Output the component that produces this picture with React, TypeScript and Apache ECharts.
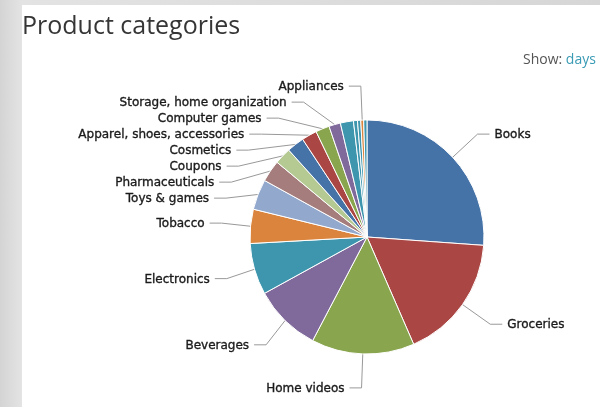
import React, { useEffect, useRef } from 'react';
import * as echarts from 'echarts';

// Slice names in drawing order (clockwise from 12 o'clock); '' = slice without a label
const categories: string[] = [
  'Books',
  'Groceries',
  'Home videos',
  'Beverages',
  'Electronics',
  'Tobacco',
  'Toys & games',
  'Pharmaceuticals',
  'Coupons',
  'Cosmetics',
  'Apparel, shoes, accessories',
  'Computer games',
  'Storage, home organization',
  '',
  '',
  '',
  'Appliances',
  '',
];

// Share of each slice (%)
const shares: number[] = [
  26.1, 17.3, 14.2, 9.3, 7.1, 4.7, 4.2, 3.0, 2.3, 2.4, 2.1, 1.9, 1.6, 1.8, 0.55, 0.45, 0.4, 0.45,
];

const palette: string[] = [
  '#4572A7', '#AA4643', '#89A54E', '#80699B', '#3D96AE',
  '#DB843D', '#92A8CD', '#A47D7C', '#B5CA92',
];

const titleText = 'Product categories';
const showLabel = 'Show:';
const showValue = 'days';

export default function App() {
  const ref = useRef<HTMLDivElement>(null);

  useEffect(() => {
    if (!ref.current) return;
    const chart = echarts.init(ref.current, null, { renderer: 'svg' });

    const data = categories.map((name, i) => {
      const hasLabel = name !== '';
      return {
        name: hasLabel ? name : ' ',
        value: shares[i],
        label: { show: hasLabel },
        labelLine: { show: hasLabel },
      };
    });

    chart.setOption({
      animation: false,
      color: palette,
      graphic: [
        {
          type: 'rect',
          z: -10,
          silent: true,
          shape: { x: 0, y: 0, width: 600, height: 407 },
          style: {
            fill: new echarts.graphic.LinearGradient(0, 0, 1, 0, [
              { offset: 0, color: '#d4d4d4' },
              { offset: 0.035, color: '#e3e3e3' },
              { offset: 1, color: '#d6d6d6' },
            ]),
          },
        },
        {
          type: 'rect',
          z: -9,
          silent: true,
          shape: { x: 22, y: 5, width: 578, height: 402 },
          style: { fill: '#ffffff' },
        },
        {
          type: 'text',
          z: 10,
          x: 22,
          y: 11,
          style: {
            text: titleText,
            fontFamily: 'Open Sans',
            fontSize: 25,
            fill: '#363636',
            textVerticalAlign: 'top',
          },
        },
        {
          type: 'text',
          z: 10,
          x: 523,
          y: 58,
          style: {
            text: `{a|${showLabel}} {b|${showValue}}`,
            fontFamily: 'Open Sans',
            fontSize: 14,
            verticalAlign: 'middle',
            rich: {
              a: { fill: '#555555', fontFamily: 'Open Sans', fontSize: 14 },
              b: { fill: '#3a9bb4', fontFamily: 'Open Sans', fontSize: 14 },
            },
          },
        },
      ],
      series: [
        {
          type: 'pie',
          center: [367, 237],
          radius: 117,
          startAngle: 90,
          clockwise: true,
          avoidLabelOverlap: true,
          itemStyle: { borderColor: '#ffffff', borderWidth: 1 },
          label: {
            color: '#1a1a1a',
            fontFamily: 'DejaVu Sans',
            fontSize: 12,
            lineHeight: 14,
            textBorderColor: '#1a1a1a',
            textBorderWidth: 0.35,
          },
          labelLine: {
            length: 34,
            length2: 12,
            lineStyle: { color: '#999999', width: 1 },
          },
          emphasis: { disabled: true },
          data,
        },
      ],
    });

    return () => chart.dispose();
  }, []);

  return (
    <div
      ref={ref}
      style={{ position: 'fixed', left: 0, top: 0, width: 600, height: 407 }}
    />
  );
}
